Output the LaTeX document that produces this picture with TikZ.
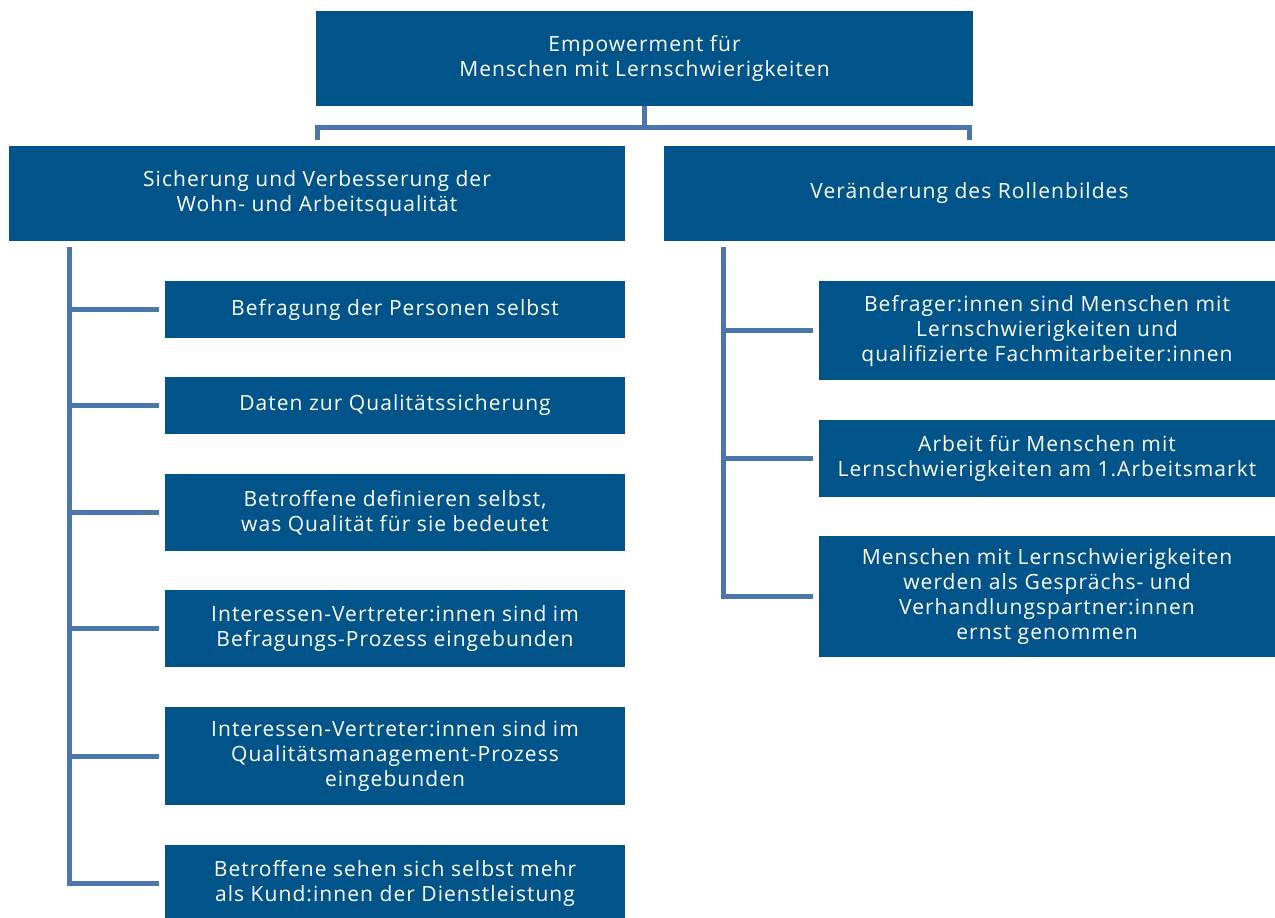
\documentclass[tikz,border=0pt]{standalone}
\usepackage{fontspec}
\setmainfont[LetterSpace=5]{Open Sans}
\usetikzlibrary{positioning}

\definecolor{boxblue}{RGB}{0,84,138}
\definecolor{lineblue}{RGB}{74,118,172}

\tikzset{
	box/.style={fill=boxblue, text=white, align=center, inner sep=0pt,
		font=\fontsize{21}{25}\selectfont},
	link/.style={draw=lineblue, line width=5pt}
}

\begin{document}
\begin{tikzpicture}[x=1pt, y=-1pt]
	\useasboundingbox (0,0) rectangle (1275,918);
	
	\node[box, minimum width=657, minimum height=95] (top) at (644.5,58.5) {Empowerment für\\Menschen mit Lernschwierigkeiten};
	\node[box, minimum width=616, minimum height=95] (sich) at (317,193.5) {Sicherung und Verbesserung der\\Wohn- und Arbeitsqualität};
	\node[box, minimum width=611, minimum height=95] (ver) at (969.5,193.5) {Veränderung des Rollenbildes};
	
	\node[box, minimum width=460, minimum height=57] (b1) at (395,309.5) {Befragung der Personen selbst};
	\node[box, minimum width=460, minimum height=57] (b2) at (395,405.5) {Daten zur Qualitätssicherung};
	\node[box, minimum width=460, minimum height=77] (b3) at (395,512.5) {Betroffene definieren selbst,\\was Qualität für sie bedeutet};
	\node[box, minimum width=460, minimum height=77] (b4) at (395,628.5) {Interessen-Vertreter:innen sind im\\Befragungs-Prozess eingebunden};
	\node[box, minimum width=460, minimum height=98] (b5) at (395,756) {Interessen-Vertreter:innen sind im\\Qualitätsmanagement-Prozess\\eingebunden};
	\node[box, minimum width=460, minimum height=77] (b6) at (395,883.5) {Betroffene sehen sich selbst mehr\\als Kund:innen der Dienstleistung};
	
	\node[box, minimum width=456, minimum height=99] (r1) at (1047,330.5) {Befrager:innen sind Menschen mit\\Lernschwierigkeiten und\\qualifizierte Fachmitarbeiter:innen};
	\node[box, minimum width=456, minimum height=77] (r2) at (1047,458.5) {Arbeit für Menschen mit\\Lernschwierigkeiten am 1.Arbeitsmarkt};
	\node[box, minimum width=456, minimum height=121] (r3) at (1047,596.5) {Menschen mit Lernschwierigkeiten\\werden als Gesprächs- und\\Verhandlungspartner:innen\\ernst genommen};
	
	% bracket under the top box
	\coordinate (bar) at (644.5,127);
	\draw[link] (top.south) -- (bar);
	\draw[link] ([yshift=6pt]sich.north) |- (bar) -| ([yshift=6pt]ver.north);
	
	% left tree
	\coordinate (lt) at (69,247);
	\draw[link, shorten >=6pt] (lt) |- (b6.west);
	\foreach \n in {b1,b2,b3,b4,b5}
		\draw[link, shorten >=6pt] (lt |- \n.west) -- (\n.west);
	
	% right tree
	\coordinate (rt) at (723,247);
	\draw[link, shorten >=6pt] (rt) |- (r3.west);
	\foreach \n in {r1,r2}
		\draw[link, shorten >=6pt] (rt |- \n.west) -- (\n.west);
\end{tikzpicture}
\end{document}
